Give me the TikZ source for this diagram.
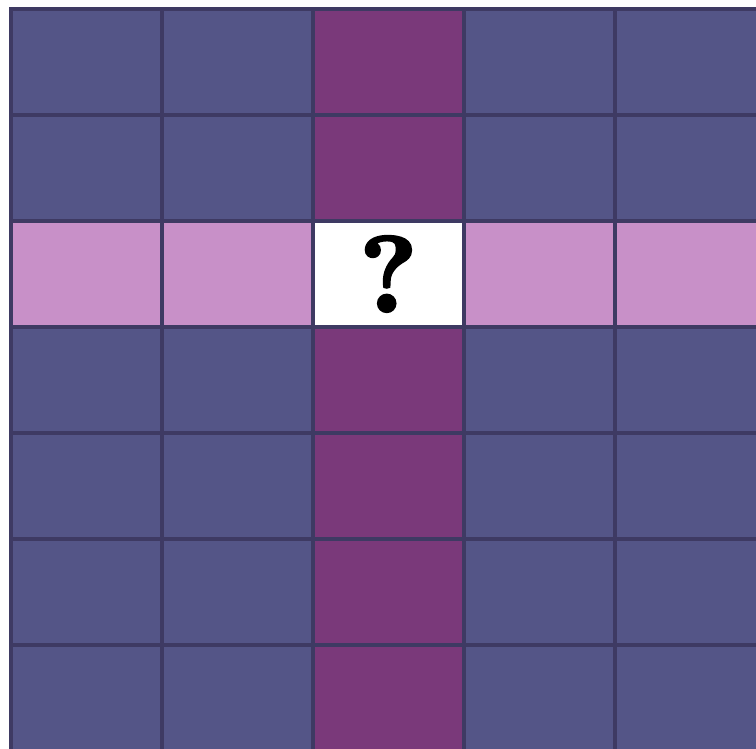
\documentclass[tikz,border=0pt]{standalone}
\definecolor{cellblue}{RGB}{84,85,135}
\definecolor{cellpurple}{RGB}{122,57,122}
\definecolor{cellpink}{RGB}{200,144,200}
\definecolor{gridline}{RGB}{62,58,99}
\tikzset{
  cell/.style={draw=gridline, line width=4pt, minimum width=151pt, minimum height=106pt, inner sep=0pt, outer sep=0pt, anchor=center},
}
\font\qfont="[lmroman10-bold]:embolden=2.5" at 108pt
\newcommand{\qmark}{{\qfont ?}}
\begin{document}
\begin{tikzpicture}[x=1pt,y=-1pt]
\useasboundingbox (0,0) rectangle (756,748);
\fill[white] (0,0) rectangle (756,748);
\clip (0,0) rectangle (756,748);
\foreach \i in {0,...,4}{
  \foreach \j in {0,...,6}{
    \pgfmathsetmacro{\cx}{11+151*(\i+0.5)}
    \pgfmathsetmacro{\cy}{9+106*(\j+0.5)}
    \ifnum\i=2
      \ifnum\j=2
        \node[cell, fill=white] (c-\i-\j) at (\cx,\cy) {\qmark};
      \else
        \node[cell, fill=cellpurple] (c-\i-\j) at (\cx,\cy) {};
      \fi
    \else
      \ifnum\j=2
        \node[cell, fill=cellpink] (c-\i-\j) at (\cx,\cy) {};
      \else
        \node[cell, fill=cellblue] (c-\i-\j) at (\cx,\cy) {};
      \fi
    \fi
  }
}
\end{tikzpicture}
\end{document}
